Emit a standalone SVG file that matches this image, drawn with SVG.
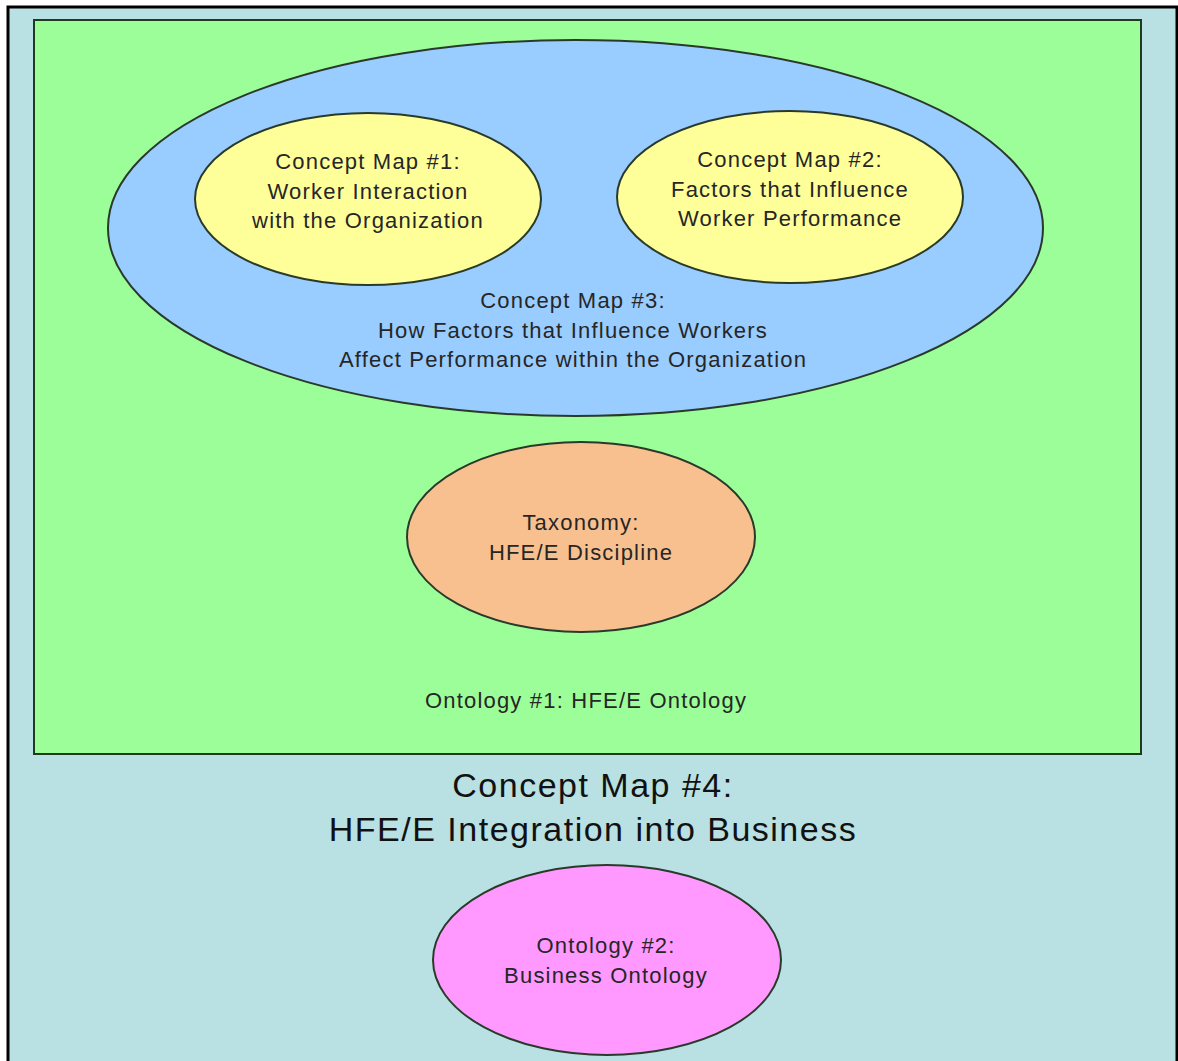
<svg xmlns="http://www.w3.org/2000/svg" width="1178" height="1061" viewBox="0 0 1178 1061">
<style>
.t{font-family:"Liberation Sans",Arial,sans-serif;font-size:22px;fill:#262626;text-anchor:middle;letter-spacing:1.2px}
.big{font-family:"Liberation Sans",Arial,sans-serif;font-size:34px;fill:#111;text-anchor:middle;letter-spacing:1.5px}
.e{stroke:#2a3a2a;stroke-width:2}
</style>
<rect x="0" y="0" width="1178" height="1061" fill="#ffffff"/>
<g id="outer">
<rect x="8" y="7" width="1169" height="1070" fill="#b9e0e2" stroke="#000" stroke-width="3"/>
<text class="big" x="593" y="797">Concept Map #4:</text>
<text class="big" x="593" y="841">HFE/E Integration into Business</text>
</g>
<g id="ontology1">
<rect x="34" y="20" width="1107" height="734" fill="#9cfe98" stroke="#1f3a1f" stroke-width="2"/>
<text class="t" x="586" y="708">Ontology #1: HFE/E Ontology</text>
</g>
<g id="conceptmap3">
<ellipse class="e" cx="575.5" cy="228" rx="467.5" ry="188" fill="#99ccff"/>
<text class="t" x="573" y="308">Concept Map #3:</text>
<text class="t" x="573" y="338">How Factors that Influence Workers</text>
<text class="t" x="573" y="367">Affect Performance within the Organization</text>
</g>
<g id="conceptmap1">
<ellipse class="e" cx="368" cy="199" rx="173" ry="86" fill="#ffff99"/>
<text class="t" x="368" y="169">Concept Map #1:</text>
<text class="t" x="368" y="199">Worker Interaction</text>
<text class="t" x="368" y="228">with the Organization</text>
</g>
<g id="conceptmap2">
<ellipse class="e" cx="790" cy="197" rx="173" ry="86" fill="#ffff99"/>
<text class="t" x="790" y="167">Concept Map #2:</text>
<text class="t" x="790" y="197">Factors that Influence</text>
<text class="t" x="790" y="226">Worker Performance</text>
</g>
<g id="taxonomy">
<ellipse class="e" cx="581" cy="537" rx="174" ry="95" fill="#f9c08f"/>
<text class="t" x="581" y="530">Taxonomy:</text>
<text class="t" x="581" y="560">HFE/E Discipline</text>
</g>
<g id="ontology2">
<ellipse class="e" cx="607" cy="960" rx="174" ry="95" fill="#ff99ff" stroke="#3a2a3a"/>
<text class="t" x="606" y="953">Ontology #2:</text>
<text class="t" x="606" y="983">Business Ontology</text>
</g>
<g id="connectors"></g>
</svg>
